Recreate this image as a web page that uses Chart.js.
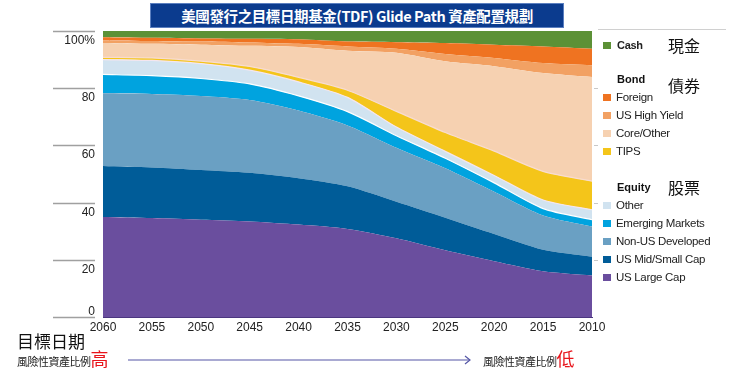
<!DOCTYPE html>
<html>
<head>
<meta charset="utf-8">
<script src="https://cdn.jsdelivr.net/npm/chart.js@4.4.1/dist/chart.umd.min.js"></script>
<style>
  body { margin: 0; background: #fff; }
  #wrap { position: relative; width: 737px; height: 386px; overflow: hidden; font-family: "Liberation Sans", Arial, sans-serif; }
  #glide { position: absolute; left: 0; top: 0; }
  .title {
    position: absolute; left: 150px; top: 3px; width: 414px; height: 25px;
    background: #0b3b8e; border: 1px solid #5b7fc0; box-sizing: border-box;
    color: #fff; font: bold 14.5px "Noto Sans CJK TC", sans-serif; line-height: 23px;
    text-align: center; letter-spacing: -0.4px;
  }
  .legend { position: absolute; left: 598px; top: 29px; width: 128px; border-top: 1.5px solid #d0d0d0; }
  .lg { position: absolute; left: 5px; font-size: 11.5px; color: #222; white-space: nowrap; line-height: 14px; letter-spacing: -0.3px; }
  .lg i { display: inline-block; width: 8px; height: 7px; margin-right: 5px; vertical-align: 0px; }
  .hd { position: absolute; left: 19px; font-weight: bold; font-size: 11px; color: #111; line-height: 14px; }
  .zh { position: absolute; left: 70px; font: 16px "Noto Sans CJK TC", sans-serif; color: #111; line-height: 18px; }
  .bt { position: absolute; font-family: "Noto Sans CJK TC", sans-serif; color: #222; white-space: nowrap; }
  .bt b { color: #e8141b; font-weight: normal; font-size: 18px; }
</style>
</head>
<body>
<div id="wrap">
  <canvas id="glide" width="737" height="386"></canvas>
  <div class="title">美國發行之目標日期基金(TDF) Glide Path 資產配置規劃</div>
  <div class="legend" id="legend"></div>
  <div class="bt" style="left:17px; top:328px; font-size:17px; color:#111;">目標日期</div>
  <div class="bt" style="left:17px; top:345px; font-size:11px; letter-spacing:-0.5px;">風險性資產比例<b>高</b></div>
  <div class="bt" style="left:483px; top:345px; font-size:11px; letter-spacing:-0.5px;">風險性資產比例<b>低</b></div>
  <svg style="position:absolute; left:0; top:0;" width="737" height="386">
    <line x1="128" y1="360" x2="470" y2="360" stroke="#5456a6" stroke-width="1.2"/>
    <polyline points="465,356 470,360 465,364" fill="none" stroke="#5456a6" stroke-width="1.2"/>
  </svg>
</div>
<script>
const years = ['2060', '2055', '2050', '2045', '2040', '2035', '2030', '2025', '2020', '2015', '2010'];

// allocation in percent, bottom of the stack first
const usLargeCap     = [35.0, 34.6, 34.0, 33.4, 32.3, 30.8, 27.5, 23.3, 19.5, 16.0, 14.5];
const usMidSmallCap  = [17.8, 17.7, 17.4, 17.0, 16.2, 14.9, 12.8, 11.4,  9.5,  7.5,  6.6];
const nonUsDeveloped = [25.4, 25.7, 25.9, 25.5, 23.7, 21.3, 18.9, 17.3, 14.8, 12.0, 10.5];
const emergingMkts   = [ 6.6,  6.4,  6.1,  5.6,  5.1,  4.8,  4.2,  3.5,  3.1,  2.4,  2.4];
const equityOther    = [ 5.2,  5.3,  5.2,  4.8,  4.9,  5.0,  3.0,  2.4,  2.6,  3.0,  3.5];
const tips           = [ 0.8,  0.9,  0.9,  1.3,  1.6,  2.5,  5.5,  6.6,  8.5, 10.0, 10.0];
const coreOther      = [ 5.0,  4.9,  5.7,  7.2, 10.6, 13.8, 20.5, 24.9, 29.7, 34.4, 36.4];
const usHighYield    = [ 0.9,  1.0,  1.1,  1.2,  1.1,  1.5,  1.4,  2.6,  2.9,  3.5,  4.1];
const foreignBond    = [ 1.1,  1.1,  1.1,  1.3,  1.6,  1.7,  2.3,  3.8,  4.6,  5.8,  5.8];
const cash           = [ 2.2,  2.4,  2.6,  2.7,  2.9,  3.7,  3.9,  4.2,  4.8,  5.4,  6.2];

const yTicks = [0, 20, 40, 60, 80, 100];
const yTickLabels = ['0', '20', '40', '60', '80', '100%'];

const series = [
  { label: 'US Large Cap', data: usLargeCap, color: '#6a4e9e' },
  { label: 'US Mid/Small Cap', data: usMidSmallCap, color: '#005c98' },
  { label: 'Non-US Developed', data: nonUsDeveloped, color: '#6aa0c3' },
  { label: 'Emerging Markets', data: emergingMkts, color: '#00a3df', edge: '#ffffff' },
  { label: 'Other', data: equityOther, color: '#d1e3f0', edge: '#f4e6ef' },
  { label: 'TIPS', data: tips, color: '#f4c51a', edge: '#f8dcd0' },
  { label: 'Core/Other', data: coreOther, color: '#f6d1b1' },
  { label: 'US High Yield', data: usHighYield, color: '#f2a163' },
  { label: 'Foreign', data: foreignBond, color: '#ef7321' },
  { label: 'Cash', data: cash, color: '#5c9136' }
];

// short marks left of the plot with labels under them, as in the source graphic
const yAxisMarks = {
  id: 'yAxisMarks',
  afterDraw(chart) {
    const { ctx, chartArea, scales } = chart;
    ctx.save();
    ctx.font = '12px "Liberation Sans", Arial, sans-serif';
    ctx.fillStyle = '#222';
    ctx.textAlign = 'right';
    ctx.textBaseline = 'middle';
    yTicks.forEach((v, i) => {
      const py = Math.round(scales.y.getPixelForValue(v)) + 0.5;
      ctx.strokeStyle = '#a0a0a0';
      ctx.lineWidth = 1.5;
      ctx.beginPath();
      ctx.moveTo(chartArea.left - 50, py);
      ctx.lineTo(chartArea.left - 8, py);
      ctx.stroke();
      if (v > 0 && v < 100) {
        ctx.strokeStyle = '#c8c8c8';
        ctx.lineWidth = 1;
        ctx.beginPath();
        ctx.moveTo(chartArea.right + 2, py);
        ctx.lineTo(chartArea.right + 6, py);
        ctx.stroke();
      }
      ctx.fillText(yTickLabels[i], chartArea.left - 8, v === 0 ? py - 6 : py + 9);
    });
    ctx.restore();
  }
};

new Chart(document.getElementById('glide'), {
  type: 'line',
  data: {
    labels: years,
    datasets: series.map((s, i) => ({
      label: s.label,
      data: s.data,
      backgroundColor: s.color,
      borderColor: s.edge || s.color,
      borderWidth: s.edge ? 1.2 : 0,
      fill: i === 0 ? 'origin' : '-1',
      pointRadius: 0,
      tension: 0.25
    }))
  },
  options: {
    responsive: false,
    animation: false,
    layout: { padding: { left: 103, right: 145, top: 31, bottom: 0 } },
    plugins: { legend: { display: false }, tooltip: { enabled: false }, title: { display: false } },
    scales: {
      x: {
        grid: { display: false, drawTicks: false },
        border: { display: true, color: '#4b3680', width: 1 },
        ticks: { color: '#222', font: { size: 12, family: '"Liberation Sans", Arial, sans-serif' }, padding: 3, maxRotation: 0, autoSkip: false },
        afterFit(scale) { scale.height = 69; }
      },
      y: {
        display: false,
        stacked: true,
        min: 0,
        max: 100
      }
    }
  },
  plugins: [yAxisMarks]
});

// grouped legend on the right
const legendRows = [
  { head: 'Cash', zh: '現金', top: 8, items: [] },
  { head: 'Bond', zh: '債券', top: 42, items: ['Foreign', 'US High Yield', 'Core/Other', 'TIPS'] },
  { head: 'Equity', zh: '股票', top: 150, items: ['Other', 'Emerging Markets', 'Non-US Developed', 'US Mid/Small Cap', 'US Large Cap'] }
];
const legendEl = document.getElementById('legend');
legendRows.forEach(g => {
  if (g.items.length === 0) {
    const s = series.find(d => d.label === g.head);
    legendEl.insertAdjacentHTML('beforeend',
      `<div class="lg" style="top:${g.top}px"><i style="background:${s.color}"></i><span style="font-weight:bold;font-size:11px;margin-left:1px">${g.head}</span></div>`);
  } else {
    legendEl.insertAdjacentHTML('beforeend', `<div class="hd" style="top:${g.top}px">${g.head}</div>`);
    g.items.forEach((name, k) => {
      const s = series.find(d => d.label === name);
      legendEl.insertAdjacentHTML('beforeend',
        `<div class="lg" style="top:${g.top + 18 + k * 18}px"><i style="background:${s.color}"></i>${name}</div>`);
    });
  }
  legendEl.insertAdjacentHTML('beforeend', `<div class="zh" style="top:${g.top + (g.head === 'Bond' ? 4 : -2)}px">${g.zh}</div>`);
});
</script>
</body>
</html>
